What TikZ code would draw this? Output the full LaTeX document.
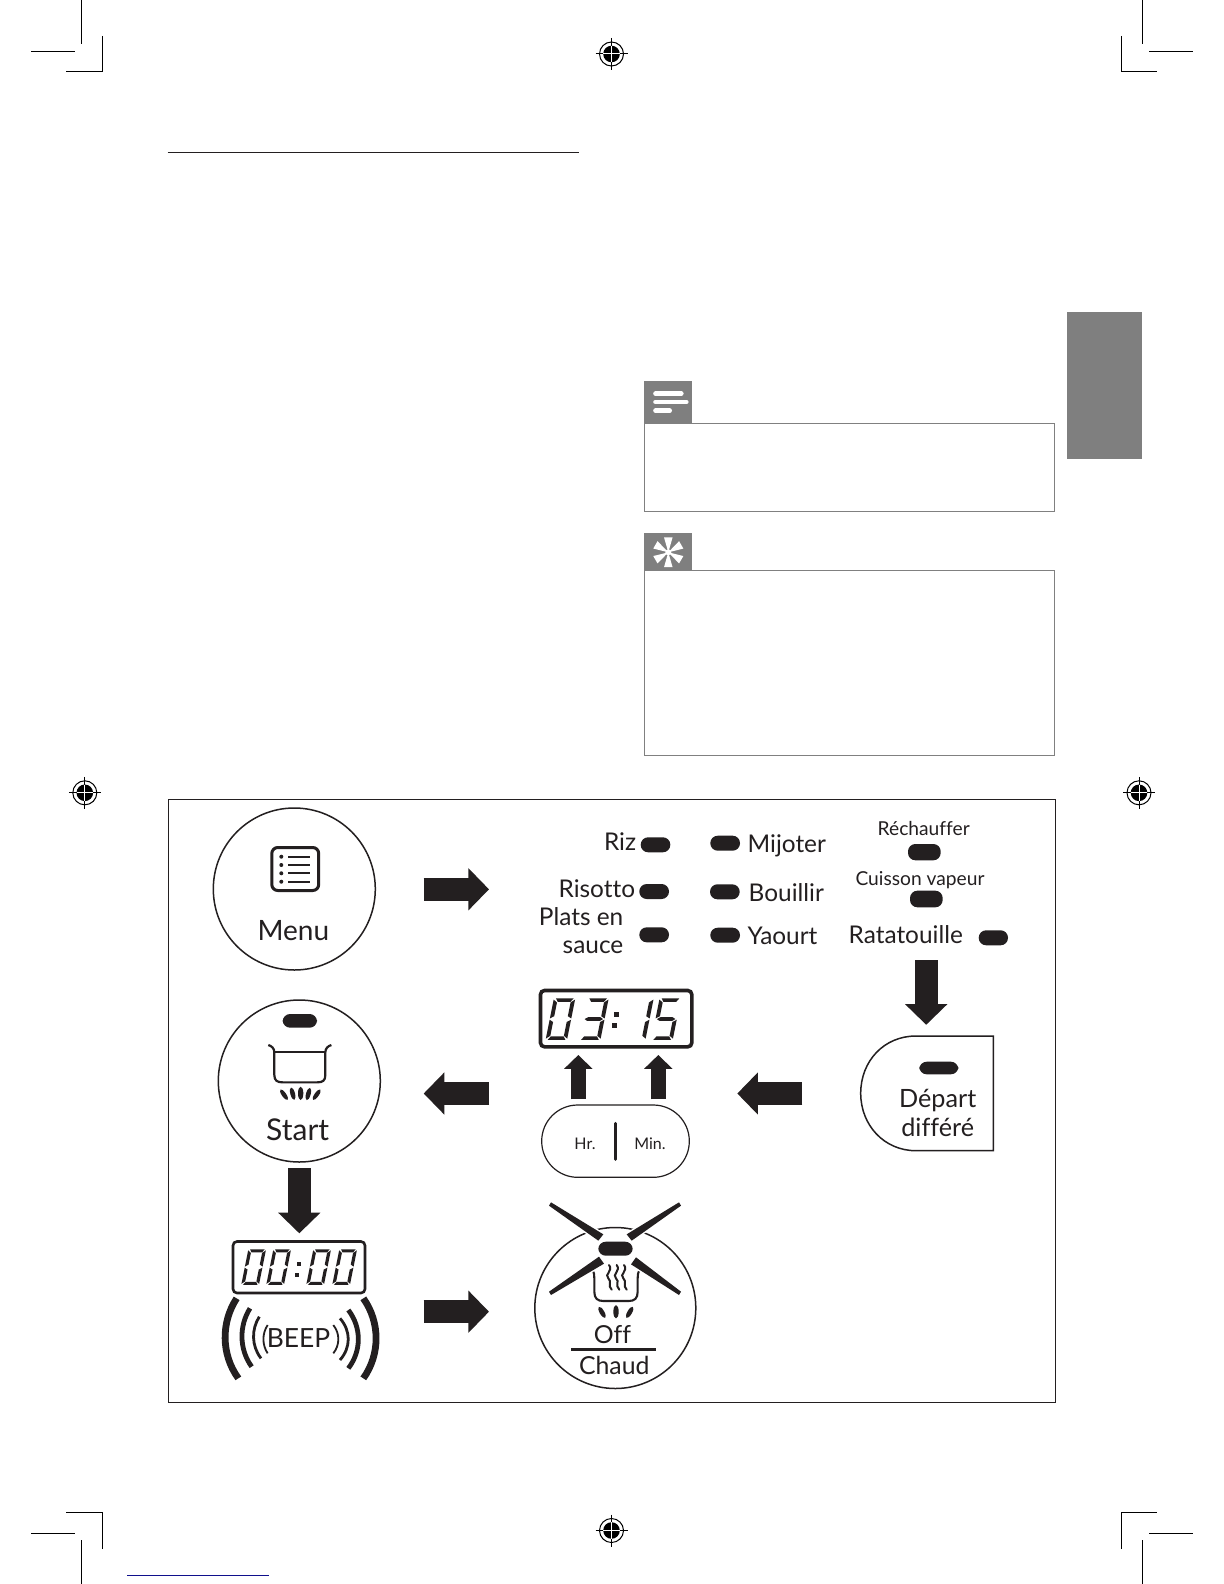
\documentclass[tikz,border=0pt]{standalone}
\usepackage{fontspec}
\setmainfont{Lato}[Ligatures=NoCommon]
\usetikzlibrary{arrows.meta,calc}
\definecolor{ink}{HTML}{231F20}
\definecolor{tabgray}{HTML}{7F7F7F}
\definecolor{edgegray}{HTML}{808080}
\definecolor{printblue}{HTML}{10108C}
\tikzset{
 pxgrid/.style={x=0.5pt,y=-0.5pt},
 crop/.style={draw=black,line width=0.5pt},
 hblock/.style={draw=ink,line width=11.35pt,-{Triangle[width=20.5pt,length=10.3pt]}},
 vblock/.style={draw=ink,line width=11.35pt,-{Triangle[width=20.5pt,length=10.3pt]}},
 ublock/.style={draw=ink,line width=7.6pt,-{Triangle[width=13.8pt,length=6.9pt]}},
 keypill/.style={fill=ink,rounded corners=3.7pt},
 lbl/.style={inner sep=0pt,text=ink,font=\fontsize{12.2}{14}\selectfont},
 small/.style={inner sep=0pt,text=ink,font=\fontsize{9.6}{12}\selectfont},
 tiny/.style={inner sep=0pt,text=ink,font=\fontsize{8}{10}\selectfont},
 big/.style={inner sep=0pt,text=ink,font=\fontsize{14}{16}\selectfont},
 bigger/.style={inner sep=0pt,text=ink,font=\fontsize{15}{17}\selectfont},
 mid/.style={inner sep=0pt,text=ink,font=\fontsize{12.4}{15}\selectfont},
 seg/.style={fill=ink,draw=none},
 zoomA/.style={shift={(170,800)},x=0.16667pt,y=-0.16667pt},
 zoomD/.style={shift={(200,1190)},x=0.16667pt,y=-0.16667pt},
 zoomE/.style={shift={(540,1195)},x=0.16667pt,y=-0.16667pt},
 regwhite/.style={draw=white,line width=0.5pt}
}
\newcommand{\segA}{\fill[seg] (0.08,0) -- (0.94,0) -- (0.82,0.085) -- (0.20,0.085) -- cycle;}
\newcommand{\segF}{\fill[seg] (-0.02,0.03) -- (0.17,0.10) -- (0.17,0.43) -- (-0.02,0.485) -- cycle;}
\newcommand{\segB}{\fill[seg] (1.02,0.03) -- (1.02,0.485) -- (0.83,0.43) -- (0.83,0.10) -- cycle;}
\newcommand{\segG}{\fill[seg] (0.05,0.50) -- (0.20,0.455) -- (0.80,0.455) -- (0.95,0.50) -- (0.80,0.545) -- (0.20,0.545) -- cycle;}
\newcommand{\segE}{\fill[seg] (-0.02,0.515) -- (0.17,0.57) -- (0.17,0.90) -- (-0.02,0.97) -- cycle;}
\newcommand{\segC}{\fill[seg] (1.02,0.515) -- (1.02,0.97) -- (0.83,0.90) -- (0.83,0.57) -- cycle;}
\newcommand{\segD}{\fill[seg] (0.08,1) -- (0.94,1) -- (0.82,0.915) -- (0.20,0.915) -- cycle;}
\newcommand{\digitzero}{\segA\segB\segC\segD\segE\segF}
\newcommand{\digitthree}{\segA\segB\segC\segD\segG}
\newcommand{\digitone}{\segB\segC}
\newcommand{\digitfive}{\segA\segF\segG\segC\segD}
\newcommand{\regmark}[1]{%
 \draw[black,line width=0.5pt] (#1) circle[radius=12];
 \fill[black] (#1) circle[radius=8.3];
 \draw[black,line width=0.5pt] ($(#1)+(-16,0)$) -- ($(#1)+(16,0)$);
 \draw[black,line width=0.5pt] ($(#1)+(0,-16)$) -- ($(#1)+(0,16)$);
 \draw[regwhite] ($(#1)+(-8.3,0)$) -- ($(#1)+(8.3,0)$);
 \draw[regwhite] ($(#1)+(0,-8.3)$) -- ($(#1)+(0,8.3)$);
}
\newcommand{\leaf}[5]{\fill[ink,rotate around={#3:(#1,#2)}] (#1,#2) ellipse[x radius=#4,y radius=#5];}
\begin{document}
\begin{tikzpicture}[pxgrid]
\useasboundingbox (0,0) rectangle (1224,1584);
\fill[white] (0,0) rectangle (1224,1584);
% crop marks
\draw[crop] (81.3,0) -- (81.3,44);
\draw[crop] (31,51.3) -- (75,51.3);
\draw[crop] (102.3,36) -- (102.3,71.7) -- (66,71.7);
\draw[crop] (1142,0) -- (1142,44);
\draw[crop] (1149,51.3) -- (1193,51.3);
\draw[crop] (1121,36) -- (1121,71.7) -- (1157,71.7);
\draw[crop] (81.3,1540) -- (81.3,1584);
\draw[crop] (31,1533.3) -- (75,1533.3);
\draw[crop] (102.3,1549) -- (102.3,1512.3) -- (66,1512.3);
\draw[crop] (1142,1540) -- (1142,1584);
\draw[crop] (1149,1533.3) -- (1193,1533.3);
\draw[crop] (1121,1549) -- (1121,1512.3) -- (1157,1512.3);
\draw[printblue,line width=0.6pt] (127,1575.3) -- (269,1575.3);
\regmark{611.5,54}
\regmark{84.8,792.8}
\regmark{1139,792.8}
\regmark{611.5,1530.5}
% header rule, side tab
\draw[draw=ink,line width=0.5pt] (167.6,152.5) -- (578.7,152.5);
\fill[tabgray] (1066.5,312) rectangle (1142,458.5);
% note box
\draw[edgegray,line width=0.5pt] (644.5,423) rectangle (1054.5,511);
\fill[tabgray] (644,381) rectangle (692,423);
\foreach \yy/\xe in {393.7/682.3,402/687.3,410.7/670.7}
  \draw[white,line width=2.3pt,line cap=round] (655.5,\yy) -- (\xe-1,\yy);
% tip box
\draw[edgegray,line width=0.5pt] (644.5,570) rectangle (1054.5,755.4);
\fill[tabgray] (644,533.3) rectangle (692,570);
\foreach \a in {90,30,-30,-90,210,150}
  \fill[white,shift={(668.3,552.3)}] (0,0) -- (\a-16:15.5) -- (\a+16:15.5) -- cycle;
\fill[white] (668.3,552.3) circle[radius=3];
% frame
\draw[draw=ink,line width=0.5pt] (168,799) rectangle (1055,1402);

% ---- Menu
\node[circle,draw=ink,line width=0.75pt,minimum size=81pt,inner sep=0pt] (menu) at (294.3,889) {};
\draw[ink,line width=1.5pt,rounded corners=3pt] (271.8,847.5) rectangle (318.7,890.5);
\foreach \yy in {856.7,865,873.3,881.7}{
  \draw[ink,line width=1.1pt] (288.3,\yy) -- (310,\yy);
  \fill[ink] (281.3,\yy) circle[radius=2];
}
\node[big,anchor=base] (menutext) at (293.3,940.5) {Menu};

% ---- key panel
\fill[keypill] (640.7,837.3) rectangle (670.3,852.3);
\fill[keypill] (710.3,835.7) rectangle (740,850.7);
\fill[keypill] (639.3,884) rectangle (669,899);
\fill[keypill] (710,884.3) rectangle (739.7,899.3);
\fill[keypill] (639.3,927.3) rectangle (669,942.3);
\fill[keypill] (710.3,927.7) rectangle (740,942.7);
\fill[keypill] (908,844) rectangle (940.7,860.3);
\fill[keypill] (910,890.7) rectangle (942.7,907.3);
\fill[keypill] (978.7,930.3) rectangle (1008,945.3);
\node[lbl,anchor=base east] (riz) at (636.5,850.3) {Riz};
\node[lbl,anchor=base west] (mijoter) at (747.3,852.7) {Mijoter};
\node[lbl,anchor=base east] (risotto) at (635.5,897) {Risotto};
\node[lbl,anchor=base west] (bouillir) at (748.3,901) {Bouillir};
\node[lbl,anchor=base east] (plats) at (623.7,925) {Plats en};
\node[lbl,anchor=base east] (sauce) at (623.7,953.7) {sauce};
\node[lbl,anchor=base west] (yaourt) at (747.3,944.3) {Yaourt};
\node[lbl,anchor=base west] (rata) at (848.3,943.7) {Ratatouille};
\node[small,anchor=base] (rech) at (923.7,835) {Réchauffer};
\node[small,anchor=base] (cuisson) at (920,885.3) {Cuisson vapeur};

% ---- Depart
\draw[ink,line width=0.75pt] (916,1036) -- (993.3,1036) -- (993.3,1150.7) -- (916,1150.7)
   .. controls (884,1150.7) and (860.7,1125) .. (860.7,1093.3)
   .. controls (860.7,1061) and (884,1036) .. (916,1036) -- cycle;
\fill[keypill] (919.3,1061.7) rectangle (958.3,1074.3);
\node[lbl,font=\fontsize{12.6}{14}\selectfont,anchor=base] (depart) at (937.7,1107) {Départ};
\node[lbl,font=\fontsize{12.6}{14}\selectfont,anchor=base] (differe) at (937.7,1136) {différé};

% ---- Hr Min
\draw[ink,line width=0.6pt,rounded corners=18pt] (541.7,1105) rectangle (689.3,1177.3);
\draw[ink,line width=1.5pt,line cap=round] (615.7,1123.3) -- (615.7,1159.3);
\node[tiny,anchor=base] (hr) at (585,1149.5) {Hr.};
\node[tiny,anchor=base] (min) at (650,1149.5) {Min.};

% ---- LCD 03:15
\draw[ink,line width=1.8pt,rounded corners=2pt] (540.5,990.5) rectangle (691.8,1046.8);
\begin{scope}[shift={(554.3,998.3)},xslant=0.2,x=10.3pt,y=-20.8pt] \digitzero \end{scope}
\begin{scope}[shift={(587.7,998.3)},xslant=0.2,x=10.3pt,y=-20.8pt] \digitthree \end{scope}
\fill[ink] (614.3,1011.7) rectangle (618.8,1016.7);
\fill[ink] (612.3,1023.3) rectangle (616.8,1027.8);
\begin{scope}[shift={(632.7,998.3)},xslant=0.2,x=10.3pt,y=-20.8pt] \digitone \end{scope}
\begin{scope}[shift={(660,998.3)},xslant=0.2,x=10.3pt,y=-20.8pt] \digitfive \end{scope}

% ---- Start
\node[circle,draw=ink,line width=0.75pt,minimum size=81pt,inner sep=0pt] (start) at (299.3,1081) {};
\fill[keypill] (282.7,1014) rectangle (317,1027.7);
\begin{scope}[zoomA]
 \draw[ink,line width=1.1pt] (295,735) .. controls (305,738) and (313,745) .. (313,757)
   -- (313,825) .. controls (313,842) and (322,847) .. (338,847) -- (442,847)
   .. controls (458,847) and (466,842) .. (466,825) -- (466,757)
   .. controls (466,745) and (474,738) .. (484,735);
 \draw[ink,line width=1.1pt] (313,757) -- (466,757);
 \leaf{342}{884}{35}{6.5}{19}
 \leaf{368}{881}{15}{7}{19}
 \leaf{392}{880}{0}{8}{20}
 \leaf{415}{882}{-15}{7}{19}
 \leaf{440}{884}{-35}{6.5}{19}
\end{scope}
\node[bigger,anchor=base] (starttext) at (297.7,1140) {Start};

% ---- LCD 00:00
\draw[ink,line width=1.3pt,rounded corners=2pt] (233,1241.5) rectangle (365,1293);
\foreach \xx in {248.7,273.7,313.7,339.7}{
 \begin{scope}[shift={(\xx,1249.3)},xslant=0.2,x=8.5pt,y=-17.8pt] \digitzero \end{scope}
}
\fill[ink] (296.5,1262) rectangle (300.5,1266);
\fill[ink] (294.5,1272.5) rectangle (298.5,1276.5);

% ---- BEEP
\node[inner sep=0pt,text=ink,font=\fontsize{13.2}{15}\selectfont,anchor=base] (beep) at (298.5,1347.5) {BEEP};
\begin{scope}[zoomD]
 \foreach \xa/\ya/\xb/\yb/\xc/\w in {
   110/325/115/565/63/3.4,
   150/355/155/530/117/2.4,
   178/380/183/505/154/1.4,
   203/405/203/490/186/0.9,
   490/325/490/565/541/3.4,
   445/360/445/535/485/2.4,
   420/385/420/510/453/1.4,
   400/405/400/490/420/0.9}
  \draw[ink,line width=\w pt] (\xa,\ya) .. controls (\xc,{\ya+(\yb-\ya)*0.3}) and (\xc,{\ya+(\yb-\ya)*0.7}) .. (\xb,\yb);
\end{scope}

% ---- Off / Chaud
\node[circle,draw=ink,line width=0.75pt,minimum size=80.5pt,inner sep=0pt] (off) at (615.3,1308) {};
\begin{scope}[zoomE]
 \draw[ink,line width=1.05pt] (158,225) .. controls (162,232) and (163,240) .. (163,250) -- (163,290)
   .. controls (163,310) and (172,318) .. (190,318) -- (266,318)
   .. controls (284,318) and (293,310) .. (293,290) -- (293,250)
   .. controls (293,240) and (294,232) .. (298,225);
 \foreach \pts in {
   {(27,32)--(33,22)--(190,118)--(175,137)},
   {(423,32)--(417,22)--(260,118)--(275,137)},
   {(27,290)--(33,300)--(192,206)--(177,185)},
   {(423,290)--(417,300)--(273,208)--(288,187)}}{
   \filldraw[ink,draw=white,line width=1.5pt] \pts -- cycle;
   \fill[ink] \pts -- cycle;
 }
 \foreach \sx in {205,228,250}
   \draw[ink,line width=1pt,line cap=round] (\sx+2,210) .. controls (\sx+16,228) and (\sx-14,238) .. (\sx,250)
      .. controls (\sx+12,260) and (\sx-4,270) .. (\sx+10,284);
 \leaf{186}{352}{30}{7}{19}
 \leaf{228}{350}{0}{8}{20}
 \leaf{269}{352}{-30}{7}{19}
\end{scope}
\draw[ink,line width=1.3pt] (571,1349.3) -- (655.7,1349.3);
\fill[keypill] (598.3,1241.7) rectangle (632.7,1255.7);
\node[mid,anchor=base] (offtext) at (612.5,1343.7) {Off};
\node[mid,anchor=base] (chaud) at (614.3,1374) {Chaud};

% ---- block arrows
\coordinate (a1s) at (423.7,889.3); \coordinate (a1e) at (489,889.3);
\coordinate (a2s) at (489,1093.5); \coordinate (a2e) at (423.7,1093.5);
\coordinate (a3s) at (802.3,1093.5); \coordinate (a3e) at (737.3,1093.5);
\coordinate (a4s) at (926.2,960); \coordinate (a4e) at (926.2,1024.8);
\coordinate (a5s) at (299.3,1168); \coordinate (a5e) at (299.3,1233.3);
\coordinate (a6s) at (423.7,1311.7); \coordinate (a6e) at (489,1311.7);
\coordinate (u1s) at (578.3,1099.3); \coordinate (u1e) at (578.3,1055);
\coordinate (u2s) at (658.3,1099.3); \coordinate (u2e) at (658.3,1055);
\draw[hblock] (a1s) -- (a1e);
\draw[hblock] (a2s) -- (a2e);
\draw[hblock] (a3s) -- (a3e);
\draw[vblock] (a4s) -- (a4e);
\draw[vblock] (a5s) -- (a5e);
\draw[hblock] (a6s) -- (a6e);
\draw[ublock] (u1s) -- (u1e);
\draw[ublock] (u2s) -- (u2e);
\end{tikzpicture}
\end{document}
